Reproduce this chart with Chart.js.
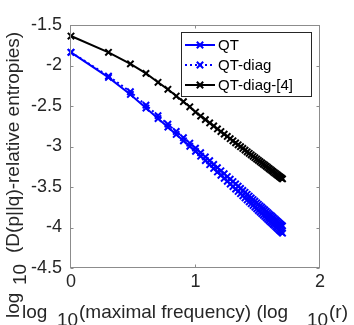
<!DOCTYPE html>
<html><head><meta charset="utf-8">
<script src="https://cdn.jsdelivr.net/npm/chart.js@4.4.0/dist/chart.umd.min.js"></script>
<style>html,body{margin:0;padding:0;background:#fff;overflow:hidden}canvas{display:block}</style>
</head><body>
<canvas id="c" width="354" height="325"></canvas>
<script>
// log10 of the maximal frequency r = 1..50
const xLog = [0, 0.3010, 0.4771, 0.6021, 0.6990, 0.7782, 0.8451, 0.9031, 0.9542, 1.0000,
  1.0414, 1.0792, 1.1139, 1.1461, 1.1761, 1.2041, 1.2304, 1.2553, 1.2788, 1.3010,
  1.3222, 1.3424, 1.3617, 1.3802, 1.3979, 1.4150, 1.4314, 1.4472, 1.4624, 1.4771,
  1.4914, 1.5051, 1.5185, 1.5315, 1.5441, 1.5563, 1.5682, 1.5798, 1.5911, 1.6021,
  1.6128, 1.6232, 1.6335, 1.6435, 1.6532, 1.6628, 1.6721, 1.6812, 1.6902, 1.6990];

const qt = [-1.837, -2.147, -2.357, -2.525, -2.655, -2.761, -2.851, -2.930, -2.998, -3.060,
  -3.120, -3.174, -3.225, -3.271, -3.314, -3.355, -3.393, -3.429, -3.463, -3.495,
  -3.526, -3.555, -3.583, -3.609, -3.635, -3.660, -3.683, -3.706, -3.728, -3.749,
  -3.770, -3.790, -3.809, -3.828, -3.846, -3.864, -3.881, -3.898, -3.914, -3.930,
  -3.946, -3.961, -3.975, -3.990, -4.004, -4.018, -4.031, -4.044, -4.057, -4.070];

const qtDiag = [-1.837, -2.130, -2.324, -2.490, -2.619, -2.725, -2.814, -2.891, -2.959, -3.020,
  -3.077, -3.129, -3.176, -3.221, -3.262, -3.300, -3.336, -3.371, -3.403, -3.433,
  -3.462, -3.490, -3.517, -3.542, -3.566, -3.590, -3.612, -3.634, -3.655, -3.675,
  -3.695, -3.714, -3.732, -3.750, -3.767, -3.784, -3.800, -3.816, -3.832, -3.847,
  -3.861, -3.876, -3.890, -3.904, -3.917, -3.930, -3.943, -3.955, -3.968, -3.980];

const qtDiag4 = [-1.636, -1.837, -1.980, -2.097, -2.207, -2.294, -2.377, -2.447, -2.510, -2.575,
  -2.624, -2.668, -2.709, -2.747, -2.783, -2.816, -2.847, -2.876, -2.904, -2.930,
  -2.955, -2.979, -3.002, -3.024, -3.045, -3.065, -3.084, -3.103, -3.121, -3.138,
  -3.155, -3.171, -3.187, -3.202, -3.217, -3.231, -3.245, -3.259, -3.272, -3.285,
  -3.298, -3.310, -3.323, -3.334, -3.346, -3.357, -3.368, -3.379, -3.389, -3.400];

const seriesNames = ['QT', 'QT-diag', 'QT-diag-[4]'];
const xTicks = [0, 1, 2];
const yTicks = [-4.5, -4, -3.5, -3, -2.5, -2, -1.5];

const FONT = '"Liberation Sans", Arial, Helvetica, sans-serif';
const TXT = '#262626';
const AXIS = '#8c8c8c';

function pts(ys) { return ys.map((v, i) => ({ x: xLog[i], y: v })); }

const seriesStyles = [
  { color: '#0000ff', dash: [] },
  { color: '#0000ff', dash: [2, 3] },
  { color: '#000000', dash: [] }
];
const seriesData = [qt, qtDiag, qtDiag4];

const datasets = seriesData.map((d, i) => ({
  label: seriesNames[i],
  data: pts(d),
  borderColor: seriesStyles[i].color,
  backgroundColor: seriesStyles[i].color,
  borderWidth: 2,
  borderDash: seriesStyles[i].dash,
  pointStyle: 'crossRot',
  pointRadius: 4.5,
  pointBorderWidth: 2,
  pointBorderColor: seriesStyles[i].color,
  tension: 0,
  fill: false,
  clip: false,
  order: 3 - i
}));

const framePlugin = {
  id: 'frame',
  afterDatasetsDraw(chart) {
    const { ctx, scales: { x, y } } = chart;
    const L = Math.round(x.getPixelForValue(0)) - 0.5;
    const R = Math.round(x.getPixelForValue(2)) - 0.5;
    const T = Math.round(y.getPixelForValue(-1.5)) + 0.5;
    const B = Math.round(y.getPixelForValue(-4.5)) - 0.5;
    ctx.save();
    ctx.strokeStyle = AXIS;
    ctx.lineWidth = 1;
    ctx.strokeRect(L, T, R - L, B - T);
    ctx.beginPath();
    const tl = 3;
    xTicks.forEach(v => {
      const px = Math.round(x.getPixelForValue(v)) - 0.5;
      ctx.moveTo(px, B); ctx.lineTo(px, B - tl);
      ctx.moveTo(px, T); ctx.lineTo(px, T + tl);
    });
    yTicks.forEach(v => {
      const py = Math.round(y.getPixelForValue(v)) + 0.5;
      ctx.moveTo(L, py); ctx.lineTo(L + tl, py);
      ctx.moveTo(R, py); ctx.lineTo(R - tl, py);
    });
    ctx.stroke();

    // legend
    const bx = 181.5, by = 32.5, bw = 130, bh = 64;
    ctx.fillStyle = '#ffffff';
    ctx.fillRect(bx, by, bw, bh);
    ctx.strokeStyle = '#262626';
    ctx.strokeRect(bx, by, bw, bh);
    ctx.font = '15px ' + FONT;
    ctx.textBaseline = 'middle';
    ctx.textAlign = 'left';
    seriesNames.forEach((name, i) => {
      const ry = 45 + i * 20;
      const st = seriesStyles[i];
      ctx.save();
      ctx.strokeStyle = st.color;
      ctx.lineWidth = 2;
      ctx.setLineDash(st.dash);
      ctx.beginPath();
      ctx.moveTo(185, ry); ctx.lineTo(215, ry);
      ctx.stroke();
      ctx.setLineDash([]);
      ctx.strokeStyle = st.color;
      ctx.lineWidth = 2;
      Chart.helpers.drawPoint(ctx, { pointStyle: 'crossRot', radius: 4.5, rotation: 0, borderWidth: 2 }, 200, ry);
      ctx.restore();
      ctx.fillStyle = '#000';
      ctx.fillText(name, 218, ry + 1);
    });
    ctx.restore();
  },
  afterDraw(chart) {
    const ctx = chart.ctx;
    ctx.save();
    ctx.font = '19px ' + FONT;
    ctx.fillStyle = TXT;
    ctx.textAlign = 'left';
    ctx.textBaseline = 'alphabetic';
    // x title
    ctx.fillText('log', 22, 318);
    ctx.fillText('10', 57, 326);
    ctx.fillText('(maximal frequency) (log', 79, 318);
    ctx.fillText('10', 307, 326);
    ctx.fillText('(r)', 329, 318);
    // y title
    ctx.translate(19, 0);
    ctx.rotate(-Math.PI / 2);
    ctx.fillText('log', -318, 0);
    ctx.fillText('10', -285, 7);
    ctx.fillText('(D(p||q)-relative entropies)', -253, 0);
    ctx.restore();
  }
};

new Chart(document.getElementById('c'), {
  type: 'line',
  data: { datasets },
  options: {
    responsive: false,
    animation: false,
    devicePixelRatio: 1,
    layout: { padding: { left: 0, top: 25, right: 34, bottom: 0 } },
    plugins: { legend: { display: false }, tooltip: { enabled: false }, title: { display: false } },
    scales: {
      x: {
        type: 'linear', min: 0, max: 2,
        afterFit(s) { s.height = 57; },
        afterBuildTicks(s) { s.ticks = xTicks.map(v => ({ value: v })); },
        grid: { display: false, drawTicks: false },
        border: { display: false },
        ticks: { color: TXT, font: { family: FONT, size: 18 }, padding: 3, maxRotation: 0,
                 callback: v => String(v) }
      },
      y: {
        type: 'linear', min: -4.5, max: -1.5,
        afterFit(s) { s.width = 71; },
        afterBuildTicks(s) { s.ticks = yTicks.map(v => ({ value: v })); },
        grid: { display: false, drawTicks: false },
        border: { display: false },
        ticks: { color: TXT, font: { family: FONT, size: 18 }, padding: 9,
                 callback: v => String(v) }
      }
    }
  },
  plugins: [framePlugin]
});
</script>
</body></html>
